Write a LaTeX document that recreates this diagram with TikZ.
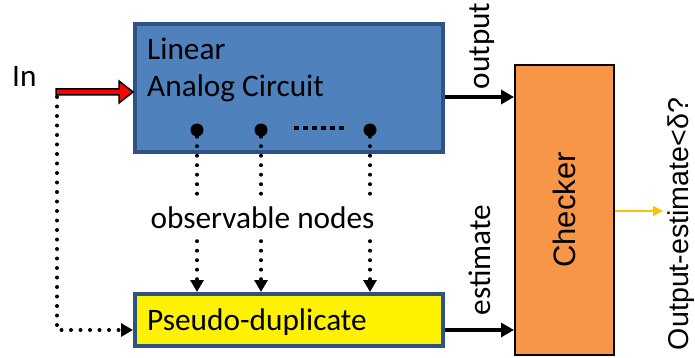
\documentclass[tikz,border=0pt]{standalone}
\usepackage{fontspec}
\setmainfont{Carlito}
\newfontfamily\arialf{Liberation Sans}
\usetikzlibrary{arrows.meta}
\definecolor{boxblue}{HTML}{4F81BD}
\definecolor{boxborder}{HTML}{2C5286}
\definecolor{chkfill}{HTML}{F79646}
\definecolor{ylwarrow}{HTML}{FFC000}
\begin{document}
\begin{tikzpicture}[x=1pt,y=-1pt,
  txt/.style={inner sep=0pt,font=\fontsize{31.3}{37}\selectfont},
  atxt/.style={inner sep=0pt,font=\arialf\fontsize{31}{37}\selectfont},
  bluebox/.style={draw=boxborder,line width=4pt,fill=boxblue,inner sep=0pt},
  ylwbox/.style={draw=boxborder,line width=4pt,fill=yellow,inner sep=0pt},
  chkbox/.style={draw=black,line width=2pt,fill=chkfill,inner sep=0pt},
  obsdot/.style={circle,fill=black,minimum size=13pt,inner sep=0pt},
  dotline/.style={line width=4pt,line cap=round,dash pattern=on 0pt off 9.5pt},
  dottip/.style={-{Triangle[length=12pt,width=13pt]}},
  solidarr/.style={line width=3.5pt,-{Triangle[length=13pt,width=14pt]}},
]
\useasboundingbox (0,0) rectangle (695,358);
% boxes
\node[bluebox,minimum width=308pt,minimum height=128pt] (lac) at (289,88) {};
\node[ylwbox,minimum width=308pt,minimum height=52pt] (pd) at (289,320) {};
\node[chkbox,minimum width=99pt,minimum height=290pt] (chk) at (564.5,210) {};
% texts in boxes
\node[txt,anchor=base west] (l1) at (147,60) {Linear};
\node[txt,anchor=base west] (l2) at (147,97) {Analog Circuit};
\node[txt,anchor=base west] (pdl) at (147,330) {Pseudo-duplicate};
\node[atxt,rotate=90] (chkl) at (564,210) {Checker};
% input
\node[txt,anchor=base west] (in) at (12,87) {In};
\coordinate (inpt) at (57,97);
\draw[line width=1.5pt,fill=red,line join=miter]
  (56,89) -- (119,89) -- (119,81) -- (lac.west |- 0,92) -- (119,103) -- (119,95) -- (56,95) -- cycle;
\draw[dotline,dottip] (inpt) |- ([yshift=-10pt]pd.west);
% observable nodes
\node[obsdot] (n1) at (197,130) {};
\node[obsdot] (n2) at (261,130) {};
\node[obsdot] (n3) at (370,130) {};
\draw[line width=4pt,dash pattern=on 5pt off 4pt] (294,128) -- (346,128);
\foreach \n in {n1,n2,n3}
  \draw[dotline,dottip] (\n) -- (\n |- pd.north);
\node[txt,anchor=base,fill=white,inner xsep=2pt,inner ysep=6pt] (obs) at (262.5,228) {observable nodes};
% outputs
\draw[solidarr] ([yshift=-9pt]lac.east) -- ([yshift=-9pt]lac.east -| chk.west);
\draw[solidarr] ([yshift=-10pt]pd.east) -- ([yshift=-10pt]pd.east -| chk.west);
\node[txt,rotate=90,anchor=base] (outl) at (489,46) {output};
\node[txt,rotate=90,anchor=base] (estl) at (490,260) {estimate};
\node[atxt,rotate=90,anchor=base,font=\arialf\fontsize{28.6}{34}\selectfont] (res) at (688.5,224) {Output-estimate<δ?};
\coordinate (resin) at (663,211);
\draw[ylwarrow,line width=1.6pt,-{Triangle[length=10pt,width=10pt]}] (chk.east |- resin) -- (resin);
\end{tikzpicture}
\end{document}
